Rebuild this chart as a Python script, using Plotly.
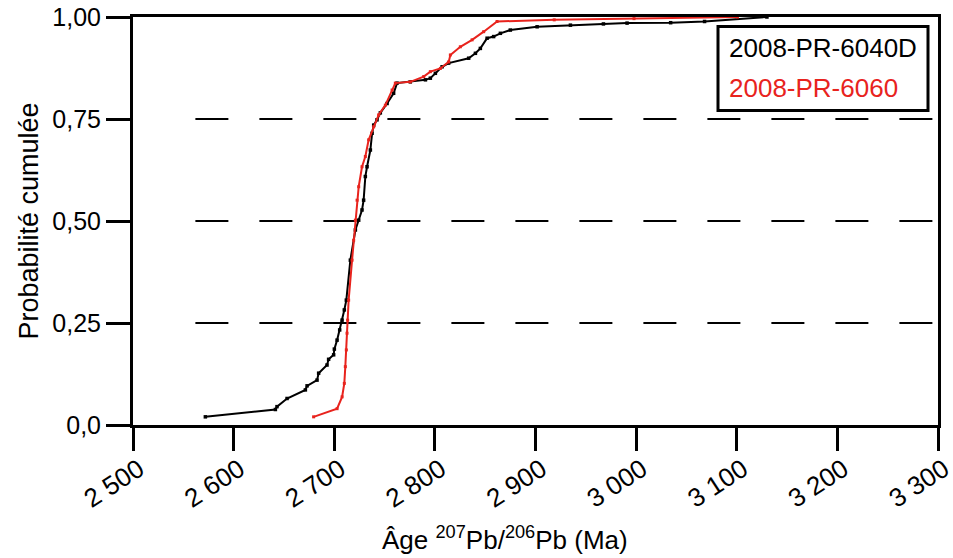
import plotly.graph_objects as go

# ---- data ----
black_name = "2008-PR-6040D"
black_age = [2571.9, 2641.5, 2643.1, 2653.1, 2671.3, 2673.0, 2682.9, 2684.5, 2692.8, 2694.4,
             2699.4, 2700.1, 2702.8, 2705.4, 2707.8, 2710.0, 2712.0, 2716.0, 2721.0, 2724.3,
             2727.6, 2729.2, 2730.9, 2732.6, 2735.9, 2737.6, 2739.2, 2742.5, 2745.8, 2752.5,
             2759.0, 2762.4, 2775.6, 2790.6, 2795.5, 2800.5, 2807.2, 2813.7, 2833.6, 2840.3,
             2845.2, 2851.9, 2858.4, 2865.1, 2875.0, 2901.6, 2934.7, 2967.5, 2991.0, 3034.3,
             3068.0, 3130.0]
black_prob = [0.020, 0.038, 0.045, 0.065, 0.086, 0.096, 0.110, 0.127, 0.147, 0.161,
              0.172, 0.186, 0.208, 0.233, 0.257, 0.282, 0.306, 0.404, 0.478, 0.502,
              0.527, 0.551, 0.609, 0.633, 0.674, 0.715, 0.735, 0.748, 0.765, 0.788,
              0.813, 0.838, 0.841, 0.846, 0.850, 0.862, 0.878, 0.887, 0.899, 0.911,
              0.923, 0.948, 0.952, 0.960, 0.968, 0.976, 0.980, 0.983, 0.985, 0.986,
              0.989, 1.000]

red_name = "2008-PR-6060"
red_age = [2679.5, 2702.8, 2707.8, 2710.0, 2711.0, 2712.0, 2712.7, 2713.3, 2714.3, 2717.7,
           2719.3, 2721.0, 2722.7, 2724.3, 2727.6, 2730.9, 2734.2, 2739.2, 2744.1, 2750.8,
           2757.5, 2760.7, 2775.6, 2788.9, 2795.5, 2805.5, 2813.7, 2815.4, 2825.3, 2837.0,
           2848.5, 2861.8, 2918.6, 2997.9, 3100.7]
red_prob = [0.020, 0.040, 0.069, 0.102, 0.143, 0.184, 0.225, 0.257, 0.306, 0.404,
            0.453, 0.502, 0.551, 0.584, 0.633, 0.658, 0.699, 0.731, 0.760, 0.784,
            0.821, 0.838, 0.841, 0.854, 0.866, 0.874, 0.890, 0.907, 0.927, 0.944,
            0.964, 0.989, 0.993, 0.996, 1.000]

x_ticks = [2500, 2600, 2700, 2800, 2900, 3000, 3100, 3200, 3300]
x_ticktext = ["2 500", "2 600", "2 700", "2 800", "2 900", "3 000", "3 100", "3 200", "3 300"]
y_ticks = [0, 0.25, 0.5, 0.75, 1.0]
y_ticktext = ["0,0", "0,25", "0,50", "0,75", "1,00"]
grid_levels = [0.25, 0.5, 0.75]

FONT = "Liberation Sans, Arial, sans-serif"
RED = "#e8231d"
L, R, T, B = 133, 15, 17, 133
PW, PH = 953 - L - R, 558 - T - B

fig = go.Figure()
fig.add_trace(go.Scatter(x=black_age, y=black_prob, mode="lines+markers", name=black_name,
                         line=dict(color="black", width=2),
                         marker=dict(symbol="square", size=3.5, color="black"),
                         cliponaxis=False, showlegend=False))
fig.add_trace(go.Scatter(x=red_age, y=red_prob, mode="lines+markers", name=red_name,
                         line=dict(color=RED, width=2),
                         marker=dict(symbol="square", size=3, color=RED),
                         cliponaxis=False, showlegend=False))

shapes = []
for g in grid_levels:
    shapes.append(dict(type="line", xref="x", yref="y", x0=2562, x1=3300, y0=g, y1=g,
                       line=dict(color="black", width=2, dash="33px,31px"), layer="below"))
# legend box
shapes.append(dict(type="rect", xref="paper", yref="paper",
                   x0=(718 - L) / PW, x1=(928 - L) / PW,
                   y0=(T + PH - 110.5) / PH, y1=(T + PH - 26.5) / PH,
                   line=dict(color="black", width=3), fillcolor="white", layer="above"))

annotations = [
    dict(xref="paper", yref="paper", x=(727 - L) / PW, y=(T + PH - 48) / PH,
         text=black_name, showarrow=False, xanchor="left", yanchor="middle",
         font=dict(family=FONT, size=26, color="black")),
    dict(xref="paper", yref="paper", x=(727 - L) / PW, y=(T + PH - 88) / PH,
         text=red_name, showarrow=False, xanchor="left", yanchor="middle",
         font=dict(family=FONT, size=26, color=RED)),
    dict(xref="paper", yref="paper", x=(505 - L) / PW, y=(T + PH - 538) / PH,
         text="Âge <sup>207</sup>Pb/<sup>206</sup>Pb (Ma)", showarrow=False,
         xanchor="center", yanchor="middle",
         font=dict(family=FONT, size=26, color="black")),
]

fig.update_layout(
    width=953, height=558,
    margin=dict(l=L, r=R, t=T, b=B),
    paper_bgcolor="white", plot_bgcolor="white",
    font=dict(family=FONT, color="black"),
    shapes=shapes, annotations=annotations,
    showlegend=False,
)
fig.update_xaxes(range=[2500, 3300], tickmode="array", tickvals=x_ticks, ticktext=x_ticktext,
                 tickangle=-33, ticks="outside", ticklen=23, tickwidth=3, tickcolor="black",
                 ticklabelshift=6, ticklabelstandoff=-7, ticklabeloverflow="allow",
                 showline=True, linecolor="black", linewidth=3, mirror=True, automargin=False,
                 showgrid=False, zeroline=False, tickfont=dict(size=26, family=FONT))
fig.update_yaxes(range=[0, 1], tickmode="array", tickvals=y_ticks, ticktext=y_ticktext,
                 ticks="outside", ticklen=24, tickwidth=3, tickcolor="black",
                 showline=True, linecolor="black", linewidth=3, mirror=True, automargin=False,
                 showgrid=False, zeroline=False, tickfont=dict(size=25, family=FONT),
                 title=dict(text="Probabilité cumulée", font=dict(size=27, family=FONT),
                            standoff=6))

fig.write_html("out.html", config={"displayModeBar": False},
               post_script="document.body.style.margin='0px';")
